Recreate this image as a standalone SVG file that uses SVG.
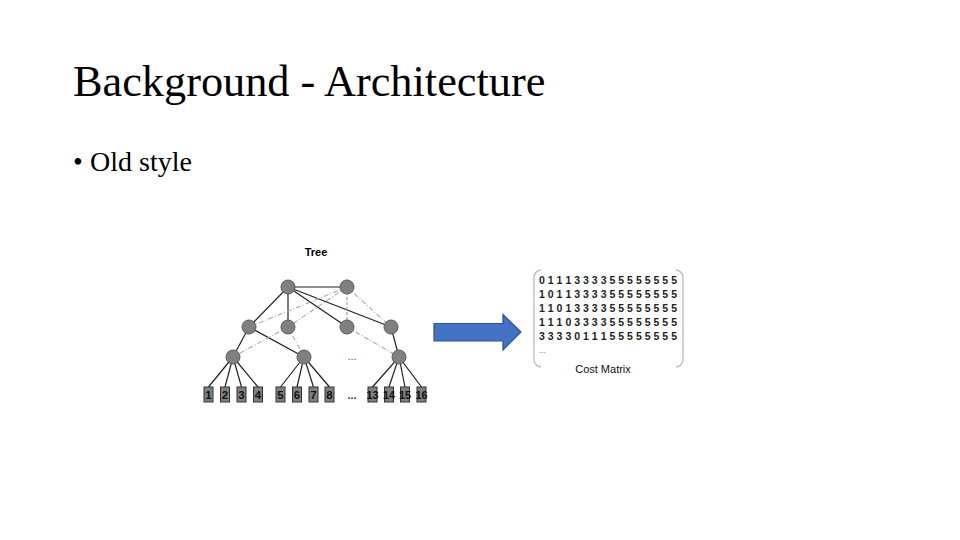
<svg xmlns="http://www.w3.org/2000/svg" width="960" height="540" viewBox="0 0 960 540">
<defs>
<style>
.title{font-family:"Liberation Serif",serif;font-size:44.3px;fill:#000}
.bullet{font-family:"Liberation Serif",serif;font-size:28px;fill:#000}
.node{fill:#808080;stroke:#5a5a5a;stroke-width:1}
.leaf{fill:#808080;stroke:#333;stroke-width:1}
.lbl{font-family:"Liberation Sans",sans-serif;font-size:11.5px;font-weight:bold;fill:#111;text-anchor:middle}
.solid{stroke:#222;stroke-width:1.2;fill:none}
.dd{stroke:#aaa;stroke-width:1.1;fill:none;stroke-dasharray:5 2 1 2}
.dash{stroke:#999;stroke-width:1.1;fill:none;stroke-dasharray:3 2}
.mat{font-family:"Liberation Sans",sans-serif;font-size:10.5px;font-weight:bold;fill:#222}
.cap{font-family:"Liberation Sans",sans-serif;font-size:11px;fill:#111;text-anchor:middle}
</style>
</defs>
<rect width="960" height="540" fill="#fff"/>
<text class="title" x="73" y="96">Background - Architecture</text>
<text class="bullet" x="73" y="171">•</text>
<text class="bullet" x="90" y="171">Old style</text>

<text x="316" y="256" font-family="Liberation Sans,sans-serif" font-size="11" font-weight="bold" text-anchor="middle">Tree</text>

<g id="connectors">
<line class="solid" x1="288" y1="287" x2="347" y2="287"/>
<line class="solid" x1="288" y1="287" x2="249" y2="327"/>
<line class="solid" x1="288" y1="287" x2="288" y2="327"/>
<line class="solid" x1="288" y1="287" x2="347" y2="327"/>
<line class="solid" x1="288" y1="287" x2="391" y2="327"/>
<line class="dd" x1="347" y1="287" x2="249" y2="327"/>
<line class="dd" x1="347" y1="287" x2="288" y2="327"/>
<line class="dash" x1="347" y1="287" x2="347" y2="327"/>
<line class="dd" x1="347" y1="287" x2="391" y2="327"/>
<line class="solid" x1="249" y1="327" x2="233" y2="357"/>
<line class="solid" x1="249" y1="327" x2="304" y2="357"/>
<line class="dd" x1="288" y1="327" x2="233" y2="357"/>
<line class="dd" x1="288" y1="327" x2="304" y2="357"/>
<line class="dd" x1="347" y1="327" x2="399" y2="357"/>
<line class="solid" x1="391" y1="327" x2="399" y2="357"/>
<line class="solid" x1="233" y1="357" x2="208.5" y2="387"/>
<line class="solid" x1="233" y1="357" x2="225" y2="387"/>
<line class="solid" x1="233" y1="357" x2="241.5" y2="387"/>
<line class="solid" x1="233" y1="357" x2="258" y2="387"/>
<line class="solid" x1="304" y1="357" x2="280.5" y2="387"/>
<line class="solid" x1="304" y1="357" x2="297" y2="387"/>
<line class="solid" x1="304" y1="357" x2="313.5" y2="387"/>
<line class="solid" x1="304" y1="357" x2="329.5" y2="387"/>
<line class="solid" x1="399" y1="357" x2="372.5" y2="387"/>
<line class="solid" x1="399" y1="357" x2="389" y2="387"/>
<line class="solid" x1="399" y1="357" x2="405" y2="387"/>
<line class="solid" x1="399" y1="357" x2="421.5" y2="387"/>
</g>

<g id="tree-nodes">
<circle class="node" cx="288" cy="287" r="7"/>
<circle class="node" cx="347" cy="287" r="7"/>
<circle class="node" cx="249" cy="327" r="7"/>
<circle class="node" cx="288" cy="327" r="7"/>
<circle class="node" cx="347" cy="327" r="7"/>
<circle class="node" cx="391" cy="327" r="7"/>
<circle class="node" cx="233" cy="357" r="7"/>
<circle class="node" cx="304" cy="357" r="7"/>
<circle class="node" cx="399" cy="357" r="7"/>
</g>
<text x="352" y="360" font-family="Liberation Sans,sans-serif" font-size="11" fill="#555" text-anchor="middle">...</text>

<g id="leaves">
<g id="leaf1"><rect class="leaf" x="204" y="387" width="9" height="15"/><text class="lbl" x="208.5" y="399">1</text></g>
<g id="leaf2"><rect class="leaf" x="220.5" y="387" width="9" height="15"/><text class="lbl" x="225" y="399">2</text></g>
<g id="leaf3"><rect class="leaf" x="237" y="387" width="9" height="15"/><text class="lbl" x="241.5" y="399">3</text></g>
<g id="leaf4"><rect class="leaf" x="253.5" y="387" width="9" height="15"/><text class="lbl" x="258" y="399">4</text></g>
<g id="leaf5"><rect class="leaf" x="276" y="387" width="9" height="15"/><text class="lbl" x="280.5" y="399">5</text></g>
<g id="leaf6"><rect class="leaf" x="292.5" y="387" width="9" height="15"/><text class="lbl" x="297" y="399">6</text></g>
<g id="leaf7"><rect class="leaf" x="309" y="387" width="9" height="15"/><text class="lbl" x="313.5" y="399">7</text></g>
<g id="leaf8"><rect class="leaf" x="325" y="387" width="9" height="15"/><text class="lbl" x="329.5" y="399">8</text></g>
<text x="352" y="399" font-family="Liberation Sans,sans-serif" font-size="11" font-weight="bold" fill="#333" text-anchor="middle">...</text>
<g id="leaf13"><rect class="leaf" x="368" y="387" width="9" height="15"/><text class="lbl" x="372.5" y="399" textLength="12" lengthAdjust="spacingAndGlyphs">13</text></g>
<g id="leaf14"><rect class="leaf" x="384.5" y="387" width="9" height="15"/><text class="lbl" x="389" y="399" textLength="12" lengthAdjust="spacingAndGlyphs">14</text></g>
<g id="leaf15"><rect class="leaf" x="400.5" y="387" width="9" height="15"/><text class="lbl" x="405" y="399" textLength="12" lengthAdjust="spacingAndGlyphs">15</text></g>
<g id="leaf16"><rect class="leaf" x="417" y="387" width="9" height="15"/><text class="lbl" x="421.5" y="399" textLength="12" lengthAdjust="spacingAndGlyphs">16</text></g>
</g>

<g id="arrow">
<path d="M434 323.5 H503 V314.5 L521 332 L503 350 V341 H434 Z" fill="#4472C4" stroke="#2F528F" stroke-width="1.2"/>
</g>

<g id="cost-matrix">
<path d="M541 270 Q534 271 534 278 V359 Q534 366 541 367" fill="none" stroke="#bbb" stroke-width="1.3"/>
<path d="M676 270 Q683 271 683 278 V359 Q683 366 676 367" fill="none" stroke="#bbb" stroke-width="1.3"/>
<text class="mat" x="539" y="284" textLength="138" lengthAdjust="spacing">0 1 1 1 3 3 3 3 5 5 5 5 5 5 5 5</text>
<text class="mat" x="539" y="298" textLength="138" lengthAdjust="spacing">1 0 1 1 3 3 3 3 5 5 5 5 5 5 5 5</text>
<text class="mat" x="539" y="312" textLength="138" lengthAdjust="spacing">1 1 0 1 3 3 3 3 5 5 5 5 5 5 5 5</text>
<text class="mat" x="539" y="326" textLength="138" lengthAdjust="spacing">1 1 1 0 3 3 3 3 5 5 5 5 5 5 5 5</text>
<text class="mat" x="539" y="340" textLength="138" lengthAdjust="spacing">3 3 3 3 0 1 1 1 5 5 5 5 5 5 5 5</text>
<text x="539" y="353" font-family="Liberation Sans,sans-serif" font-size="8" fill="#555">...</text>
<text class="cap" x="603" y="373">Cost Matrix</text>
</g>
</svg>
